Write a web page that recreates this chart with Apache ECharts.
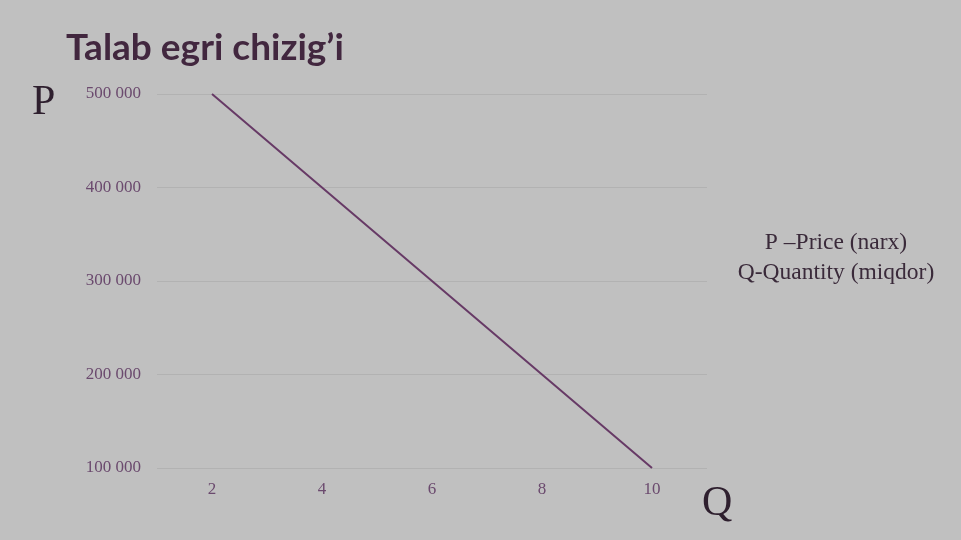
<!DOCTYPE html>
<html>
<head>
<meta charset="utf-8">
<script src="https://cdn.jsdelivr.net/npm/echarts@6/dist/echarts.min.js"></script>
<style>html,body{margin:0;padding:0;background:#c0c0c0;}#c{width:961px;height:540px;}</style>
</head>
<body>
<div id="c"></div>
<script>
const categories = ['2', '4', '6', '8', '10'];
const priceValues = [500000, 400000, 300000, 200000, 100000];
const yMin = 100000, yMax = 500000, yStep = 100000;
const titleText = 'Talab egri chizig\u2019i';
const legendLines = ['P \u2013Price (narx)', 'Q-Quantity (miqdor)'];

const chart = echarts.init(document.getElementById('c'));
chart.setOption({
  backgroundColor: '#c0c0c0',
  animation: false,
  title: {
    text: titleText, left: 61, top: 25,
    textStyle: { fontFamily: 'Lato', fontWeight: 'bold', fontSize: 37, color: '#42273f' }
  },
  grid: { left: 157, right: 254, top: 94, bottom: 72 },
  xAxis: {
    type: 'category', data: categories, boundaryGap: true,
    axisLine: { show: false }, axisTick: { show: false },
    axisLabel: { fontFamily: 'Liberation Serif', fontSize: 17, color: '#6b4a6e', margin: 13 }
  },
  yAxis: {
    type: 'value', min: yMin, max: yMax, interval: yStep,
    axisLine: { show: false }, axisTick: { show: false },
    axisLabel: {
      fontFamily: 'Liberation Serif', fontSize: 17, color: '#6b4a6e', margin: 16,
      formatter: v => String(v).replace(/\B(?=(\d{3})+(?!\d))/g, ' ')
    },
    splitLine: { lineStyle: { color: '#b2b2b2', width: 1 } }
  },
  series: [{
    type: 'line', data: priceValues, symbol: 'none',
    lineStyle: { color: '#673a66', width: 2 }
  }],
  graphic: [
    { type: 'text', left: 32, top: 82, style: { text: 'P', font: '42px "Liberation Serif"', fill: '#2e1f2e' } },
    { type: 'text', left: 702, top: 483, style: { text: 'Q', font: '42px "Liberation Serif"', fill: '#2e1f2e' } },
    { type: 'text', x: 836, y: 228, style: { text: legendLines.join('\n'), font: '23.5px "Liberation Serif"', fill: '#3a2a3a', textAlign: 'center', lineHeight: 30 } }
  ]
});
</script>
</body>
</html>
